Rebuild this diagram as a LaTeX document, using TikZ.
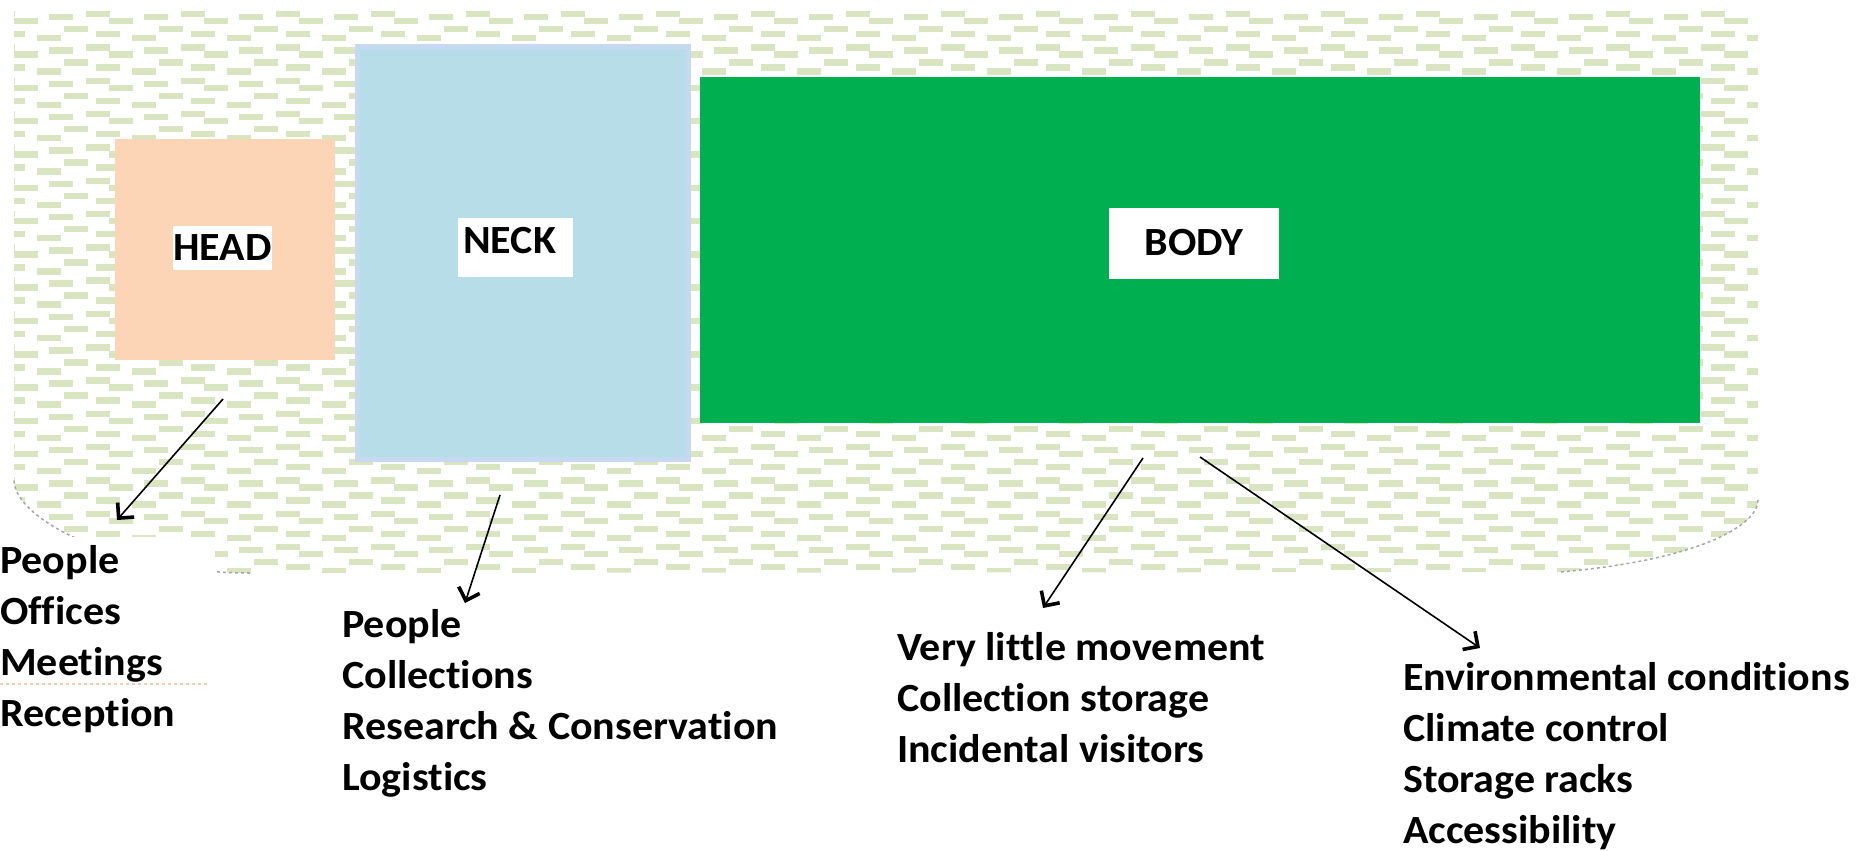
\documentclass[tikz,border=0pt]{standalone}
\usepackage{fontspec}
\setmainfont{Carlito}[Ligatures=NoCommon, FakeStretch=1.05]
\usetikzlibrary{arrows.meta}
\definecolor{patgreen}{HTML}{D9E5C1}
\definecolor{headfill}{HTML}{FBD5B5}
\definecolor{neckfill}{HTML}{B7DDE8}
\definecolor{neckline}{HTML}{C6D9F1}
\definecolor{bodyfill}{HTML}{00B050}
\definecolor{edgegray}{HTML}{A6A6A6}
\definecolor{peachline}{HTML}{F8CBAD}
\newcommand{\lsttext}[1]{\parbox[t]{700pt}{\fontsize{40}{51}\selectfont\bfseries #1}}
\tikzset{
  zone/.style={inner sep=0pt, anchor=north west},
  tag/.style={fill=white, inner sep=0pt, text height=25pt, text depth=0pt, font=\fontsize{40}{46}\selectfont\bfseries},
  lst/.style={inner sep=0pt, anchor=base west},
  pointer/.style={line width=1.6pt, -{Straight Barb[length=11pt,width=22pt,line width=3.6pt]}},
}
\begin{document}
\begin{tikzpicture}[x=1pt,y=-1pt]
\useasboundingbox (0,0) rectangle (1860,851);
% patterned background
\def\bgpath{(14,10) -- (1758,10) -- (1758,500) .. controls (1758,525) and (1700,560) .. (1560,572) -- (250,573) .. controls (120,573) and (14,520) .. (14,480) -- cycle}
\begin{scope}
\clip \bgpath;
\foreach \ty in {-1,...,17} {
  \foreach \tx in {-1,...,18} {
    \foreach \dx/\dy in {72/1,35/4,0/8,50/16,82/21,23/25} {
      \fill[patgreen] (14+\tx*95+\dx, 10+\ty*33.3+\dy) rectangle ++(24,6.5);
    }
  }
}
\end{scope}
\draw[edgegray, line width=1.5pt, dashed] (1758,500) .. controls (1758,525) and (1700,560) .. (1560,572);
\draw[edgegray, line width=1.5pt, dashed] (250,573) .. controls (120,573) and (14,520) .. (14,480);
% boxes
\node[zone, fill=headfill, minimum width=220pt, minimum height=221pt] (head) at (115,139) {};
\node[zone, fill=neckfill, draw=neckline, line width=5pt, minimum width=331pt, minimum height=412pt] (neck) at (354.5,44.5) {};
\node[zone, fill=bodyfill, minimum width=1000pt, minimum height=346pt] (body) at (700,77) {};
% labels
\node[tag, minimum width=99pt, minimum height=44pt] (headlbl) at (222.5,248) {HEAD};
\node[zone, fill=white, minimum width=115pt, minimum height=59pt] (necklbl) at (458,218) {};
\node[lst, font=\fontsize{40}{46}\selectfont\bfseries] (necktxt) at (463,253) {NECK};
\node[tag, minimum width=170pt, minimum height=71pt] (bodylbl) at (1194,243) {BODY};
% arrow end points
\coordinate (a1s) at (223,399);
\coordinate (a1e) at (117,520);
\coordinate (a2s) at (500,495);
\coordinate (a2e) at (465,603);
\coordinate (a3s) at (1143,458);
\coordinate (a3e) at (1043,608);
\coordinate (a4s) at (1200,457);
\coordinate (a4e) at (1480,648);
\draw[pointer] (a1s) -- (a1e);
\draw[pointer] (a2s) -- (a2e);
\draw[pointer] (a3s) -- (a3e);
\draw[pointer] (a4s) -- (a4e);
% lists
\fill[white] (0,537) rectangle (215,760);
\draw[peachline, line width=1.2pt, dashed] (0,684) -- (210,684);
\node[lst] (headlist) at (0,573) {\lsttext{People\\Offices\\Meetings\\Reception}};
\node[lst] (necklist) at (342,637) {\lsttext{People\\Collections\\Research \& Conservation\\Logistics}};
\node[lst] (bodylist1) at (897,660) {\lsttext{Very little movement\\Collection storage\\Incidental visitors}};
\node[lst] (bodylist2) at (1403,690) {\lsttext{Environmental conditions\\Climate control\\Storage racks\\Accessibility}};
\end{tikzpicture}
\end{document}
